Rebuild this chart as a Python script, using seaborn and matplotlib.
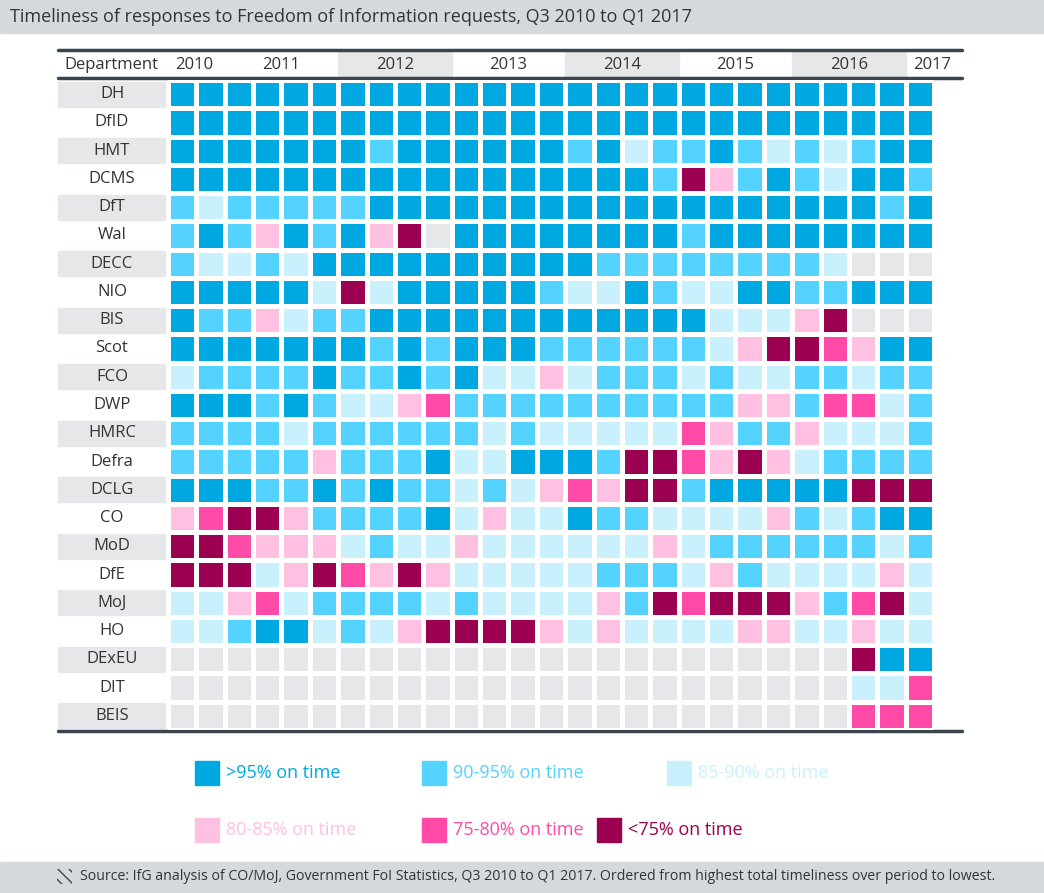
import numpy as np
import matplotlib
matplotlib.use("Agg")
import matplotlib.pyplot as plt
from matplotlib.colors import ListedColormap
from matplotlib.patches import Rectangle
import seaborn as sns

sns.set_theme(style="white")
plt.rcParams['font.family'] = ['Open Sans', 'DejaVu Sans']

# A: >95%, B: 90-95%, C: 85-90%, P: 80-85%, M: 75-80%, D: <75%, G: no data
departments = ['DH', 'DfID', 'HMT', 'DCMS', 'DfT', 'Wal', 'DECC', 'NIO', 'BIS', 'Scot', 'FCO', 'DWP',
               'HMRC', 'Defra', 'DCLG', 'CO', 'MoD', 'DfE', 'MoJ', 'HO', 'DExEU', 'DIT', 'BEIS']
rows = [
    "AAAAAAAAAAAAAAAAAAAAAAAAAAA",
    "AAAAAAAAAAAAAAAAAAAAAAAAAAA",
    "AAAAAAABAAAAAABACBBABCBCBAA",
    "AAAAAAAAAAAAAAAAABDPBABCAAB",
    "BCBBBBBAAAAAAAAAAAAAAAAAABA",
    "BABPABAPDGAAAAAAAABAAAAAAAA",
    "BCCBCAAAAAAAAAABBBBBBBBCGGG",
    "AAAAACDCAAAAABCCABCCAABBAAA",
    "ABBPCBBAAAAAAAAAAAACCCPDGGG",
    "AAAAAAABABAAABBBBBBCPDDMPAA",
    "CBBBBABBABACCPCBBBCBCCBBCBB",
    "AAABABCCPMBBBBBBBBBBPPBMMCB",
    "BBBBCBBBBBBCBCCCCCMPBBPCCCB",
    "BBBBBPBBBACCAAABDDMPDPCBBBB",
    "AAABBABABBCBCPMPDDBAAAAADDD",
    "PMDDPBBBBACPCCABBCCCCPBCBAA",
    "DDMPPPCBCCPCCCCCCPCBBBBBBCB",
    "DDDCPDMPDPCCCCCBBBCPBCCCCPC",
    "CCPMCBBBBCBCCCCPBDMDDDPBMDC",
    "CCBAACBCPDDDDPCPCCCCPPCCPCC",
    "GGGGGGGGGGGGGGGGGGGGGGGGDAA",
    "GGGGGGGGGGGGGGGGGGGGGGGGCCM",
    "GGGGGGGGGGGGGGGGGGGGGGGGMMM",
]
years = ['2010', '2011', '2012', '2013', '2014', '2015', '2016', '2017']
quarters_per_year = [2, 4, 4, 4, 4, 4, 4, 1]
legend_labels = ['>95% on time', '90-95% on time', '85-90% on time',
                 '80-85% on time', '75-80% on time', '<75% on time']

codes = 'GABCPMD'
colors = ['#e6e7e8', '#00a8e1', '#55d3ff', '#c8f0fd', '#ffc0e1', '#ff4aa8', '#9c0050']
grid = np.array([[codes.index(c) for c in r] for r in rows])

W, H = 1044, 893
fig = plt.figure(figsize=(W / 100, H / 100), dpi=100)
bg = fig.add_axes([0, 0, 1, 1])
bg.set_xlim(0, W)
bg.set_ylim(H, 0)
bg.axis('off')

x0, x1, y0, y1 = 168, 934, 80, 730
ax = fig.add_axes([x0 / W, 1 - y1 / H, (x1 - x0) / W, (y1 - y0) / H])
sns.heatmap(grid, ax=ax, cmap=ListedColormap(colors), vmin=-0.5, vmax=6.5, cbar=False,
            linewidths=2.2, linecolor='white', xticklabels=False, yticklabels=False)
ax.axis('off')

# title bar
bg.add_patch(Rectangle((0, 0), W, 33, color='#d5d9de'))
bg.text(10, 17, 'Timeliness of responses to Freedom of Information requests, Q3 2010 to Q1 2017',
        fontsize=13, color='#333333', va='center')

# header with year bands
cw = (x1 - x0) / 27
rh = (y1 - y0) / 23
c = 0
for yr, n in zip(years, quarters_per_year):
    if yr in ('2012', '2014', '2016'):
        bg.add_patch(Rectangle((x0 + c * cw, 51), n * cw, 27, color='#e6e7e8', zorder=0))
    tx = x0 + c * cw + (n * cw) / 2 if n > 2 else x0 + c * cw + 26
    bg.text(tx, 65, yr, fontsize=12, color='#333333', ha='center', va='center')
    c += n
bg.text(64, 65, 'Department', fontsize=12, color='#333333', va='center')
for yl in (50, 78, 731):
    bg.plot([58, 962], [yl, yl], color='#3b4550', lw=2.5)

for i, d in enumerate(departments):
    yc = y0 + (i + 0.5) * rh
    if i % 2 == 0:
        bg.add_patch(Rectangle((58, yc - rh / 2 + 1.5), 107, rh - 3, color='#e6e7e8'))
    bg.text(112, yc, d, fontsize=12, color='#333333', ha='center', va='center')

# legend
leg_pos = [(195, 773), (422, 773), (667, 773), (195, 830), (422, 830), (597, 830)]
for k, ((lx, ly), lab) in enumerate(zip(leg_pos, legend_labels)):
    col = colors[k + 1]
    bg.add_patch(Rectangle((lx, ly - 12), 24, 24, color=col))
    bg.text(lx + 31, ly, lab, fontsize=13, color=col, va='center')

# footer
bg.add_patch(Rectangle((0, 862), W, 31, color='#d5d9de'))
bg.add_patch(Rectangle((57, 869), 15, 15, facecolor='none', edgecolor='#3b4550', hatch='\\\\\\', lw=0))
bg.text(80, 877, 'Source: IfG analysis of CO/MoJ, Government FoI Statistics, Q3 2010 to Q1 2017. '
        'Ordered from highest total timeliness over period to lowest.',
        fontsize=10.2, color='#333333', va='center')

fig.savefig('out.png', dpi=100, facecolor='white')
